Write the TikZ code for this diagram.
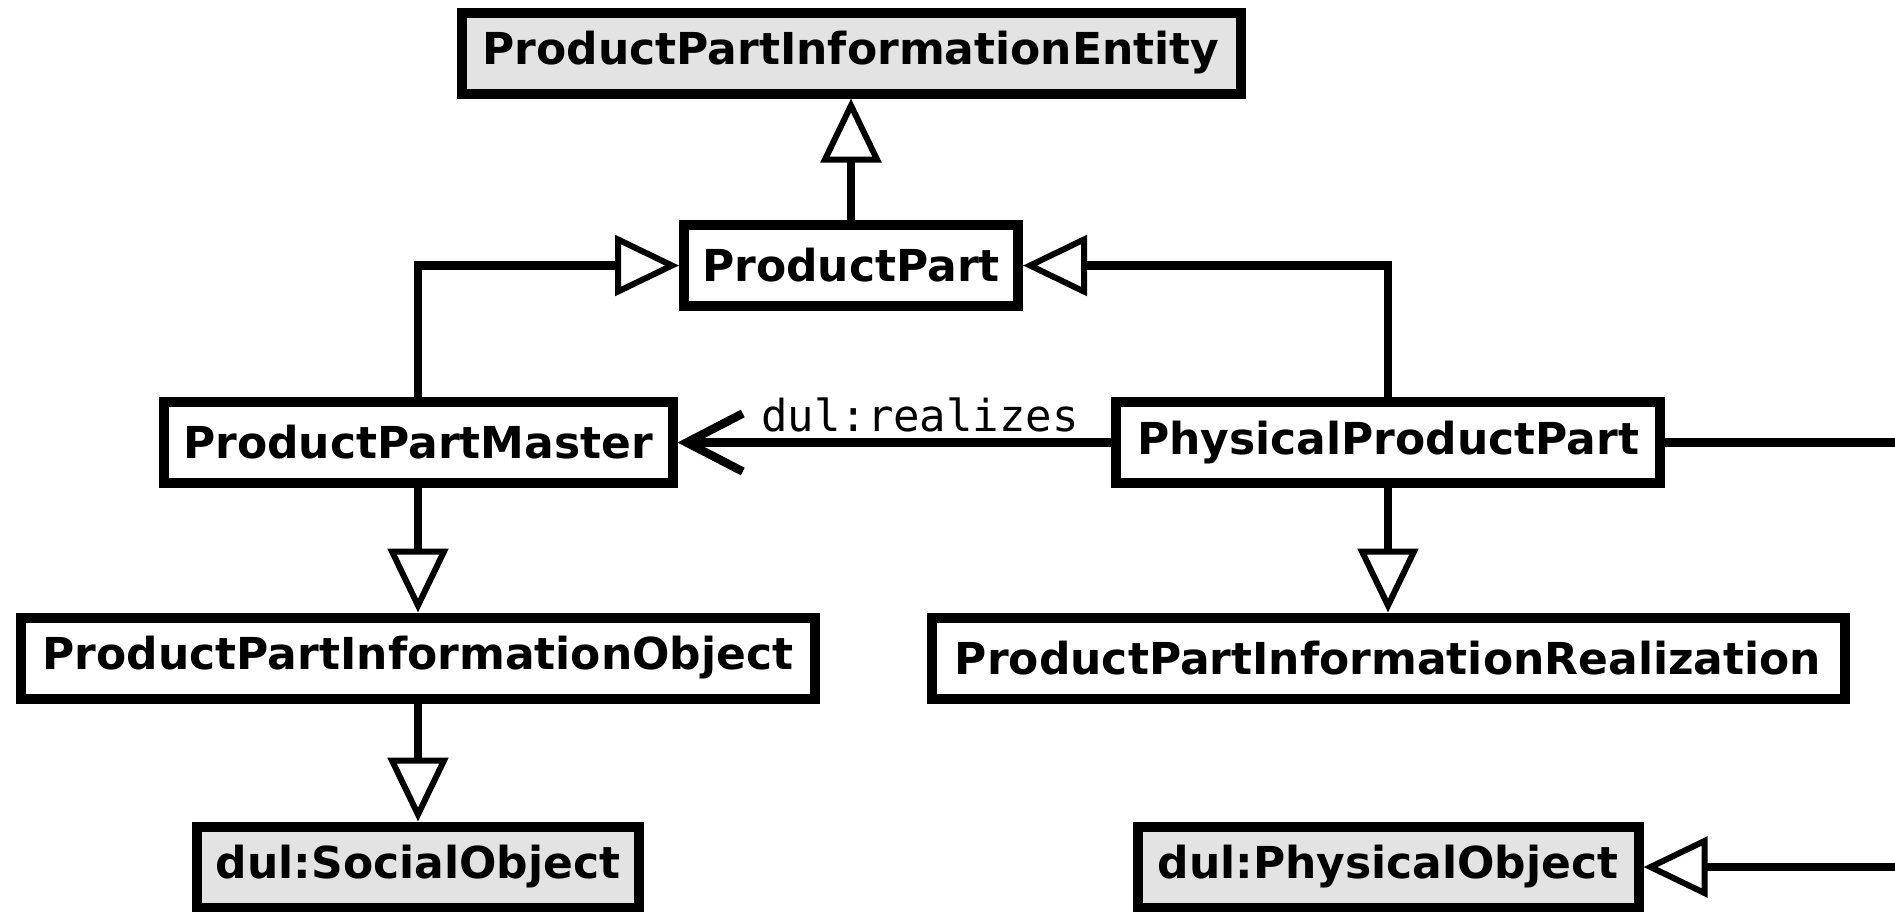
\documentclass[tikz,border=0pt]{standalone}
\usepackage{fontspec}
\setmainfont{DejaVu Sans}
\setmonofont{DejaVu Sans Mono}
\usetikzlibrary{arrows.meta}
\definecolor{classgray}{HTML}{E3E3E3}
\tikzset{
  cls/.style={draw, line width=5pt, fill=white, inner sep=0pt,
    minimum height=40.5pt, font=\fontsize{22}{26}\selectfont\bfseries},
  extcls/.style={cls, fill=classgray},
  gen/.style={line width=4.25pt,
    -{Triangle[length=32pt, width=30pt, line width=3pt, fill=white]}},
  assoc/.style={line width=4.25pt, -{Straight Barb[length=28pt, width=29pt]}},
  rolelabel/.style={font=\fontsize{22}{26}\selectfont\ttfamily,
    inner sep=0pt, anchor=base}
}
\begin{document}
\begin{tikzpicture}[x=0.5pt, y=-0.5pt]
  \path[use as bounding box, clip] (0,0) rectangle (1895,911);

  % classes
  \node[extcls, minimum width=389.5pt] (ppie) at (851,53)    {ProductPartInformationEntity};
  \node[cls,    minimum width=167pt]   (pp)   at (851,265.5) {ProductPart};
  \node[cls,    minimum width=254.5pt] (ppm)  at (418,442.5) {ProductPartMaster};
  \node[cls,    minimum width=272pt]   (ppp)  at (1388,442.5) {PhysicalProductPart};
  \node[cls,    minimum width=397pt]   (ppio) at (418,658)   {ProductPartInformationObject};
  \node[cls,    minimum width=456.5pt] (ppir) at (1388,658)  {ProductPartInformationRealization};
  \node[extcls, minimum width=221pt]   (so)   at (418,867)   {dul:SocialObject};
  \node[extcls, minimum width=250.5pt] (po)   at (1388,867)  {dul:PhysicalObject};

  % bend point of the PhysicalProductPart -> dul:PhysicalObject edge
  \coordinate (turn) at (1940,442.5);

  % generalisations
  \draw[gen] (pp) -- (ppie);
  \draw[gen] (ppm.north) |- (pp.west);
  \draw[gen] (ppp.north) |- (pp.east);
  \draw[gen] (ppm) -- (ppio);
  \draw[gen] (ppio) -- (so);
  \draw[gen] (ppp) -- (ppir);
  \draw[gen] (ppp.east) -- (turn) |- (po.east);

  % association
  \draw[assoc] (ppp.west) -- (ppm.east);
  \node[rolelabel] (lbl) at (920,431.5) {dul:realizes};
\end{tikzpicture}
\end{document}
